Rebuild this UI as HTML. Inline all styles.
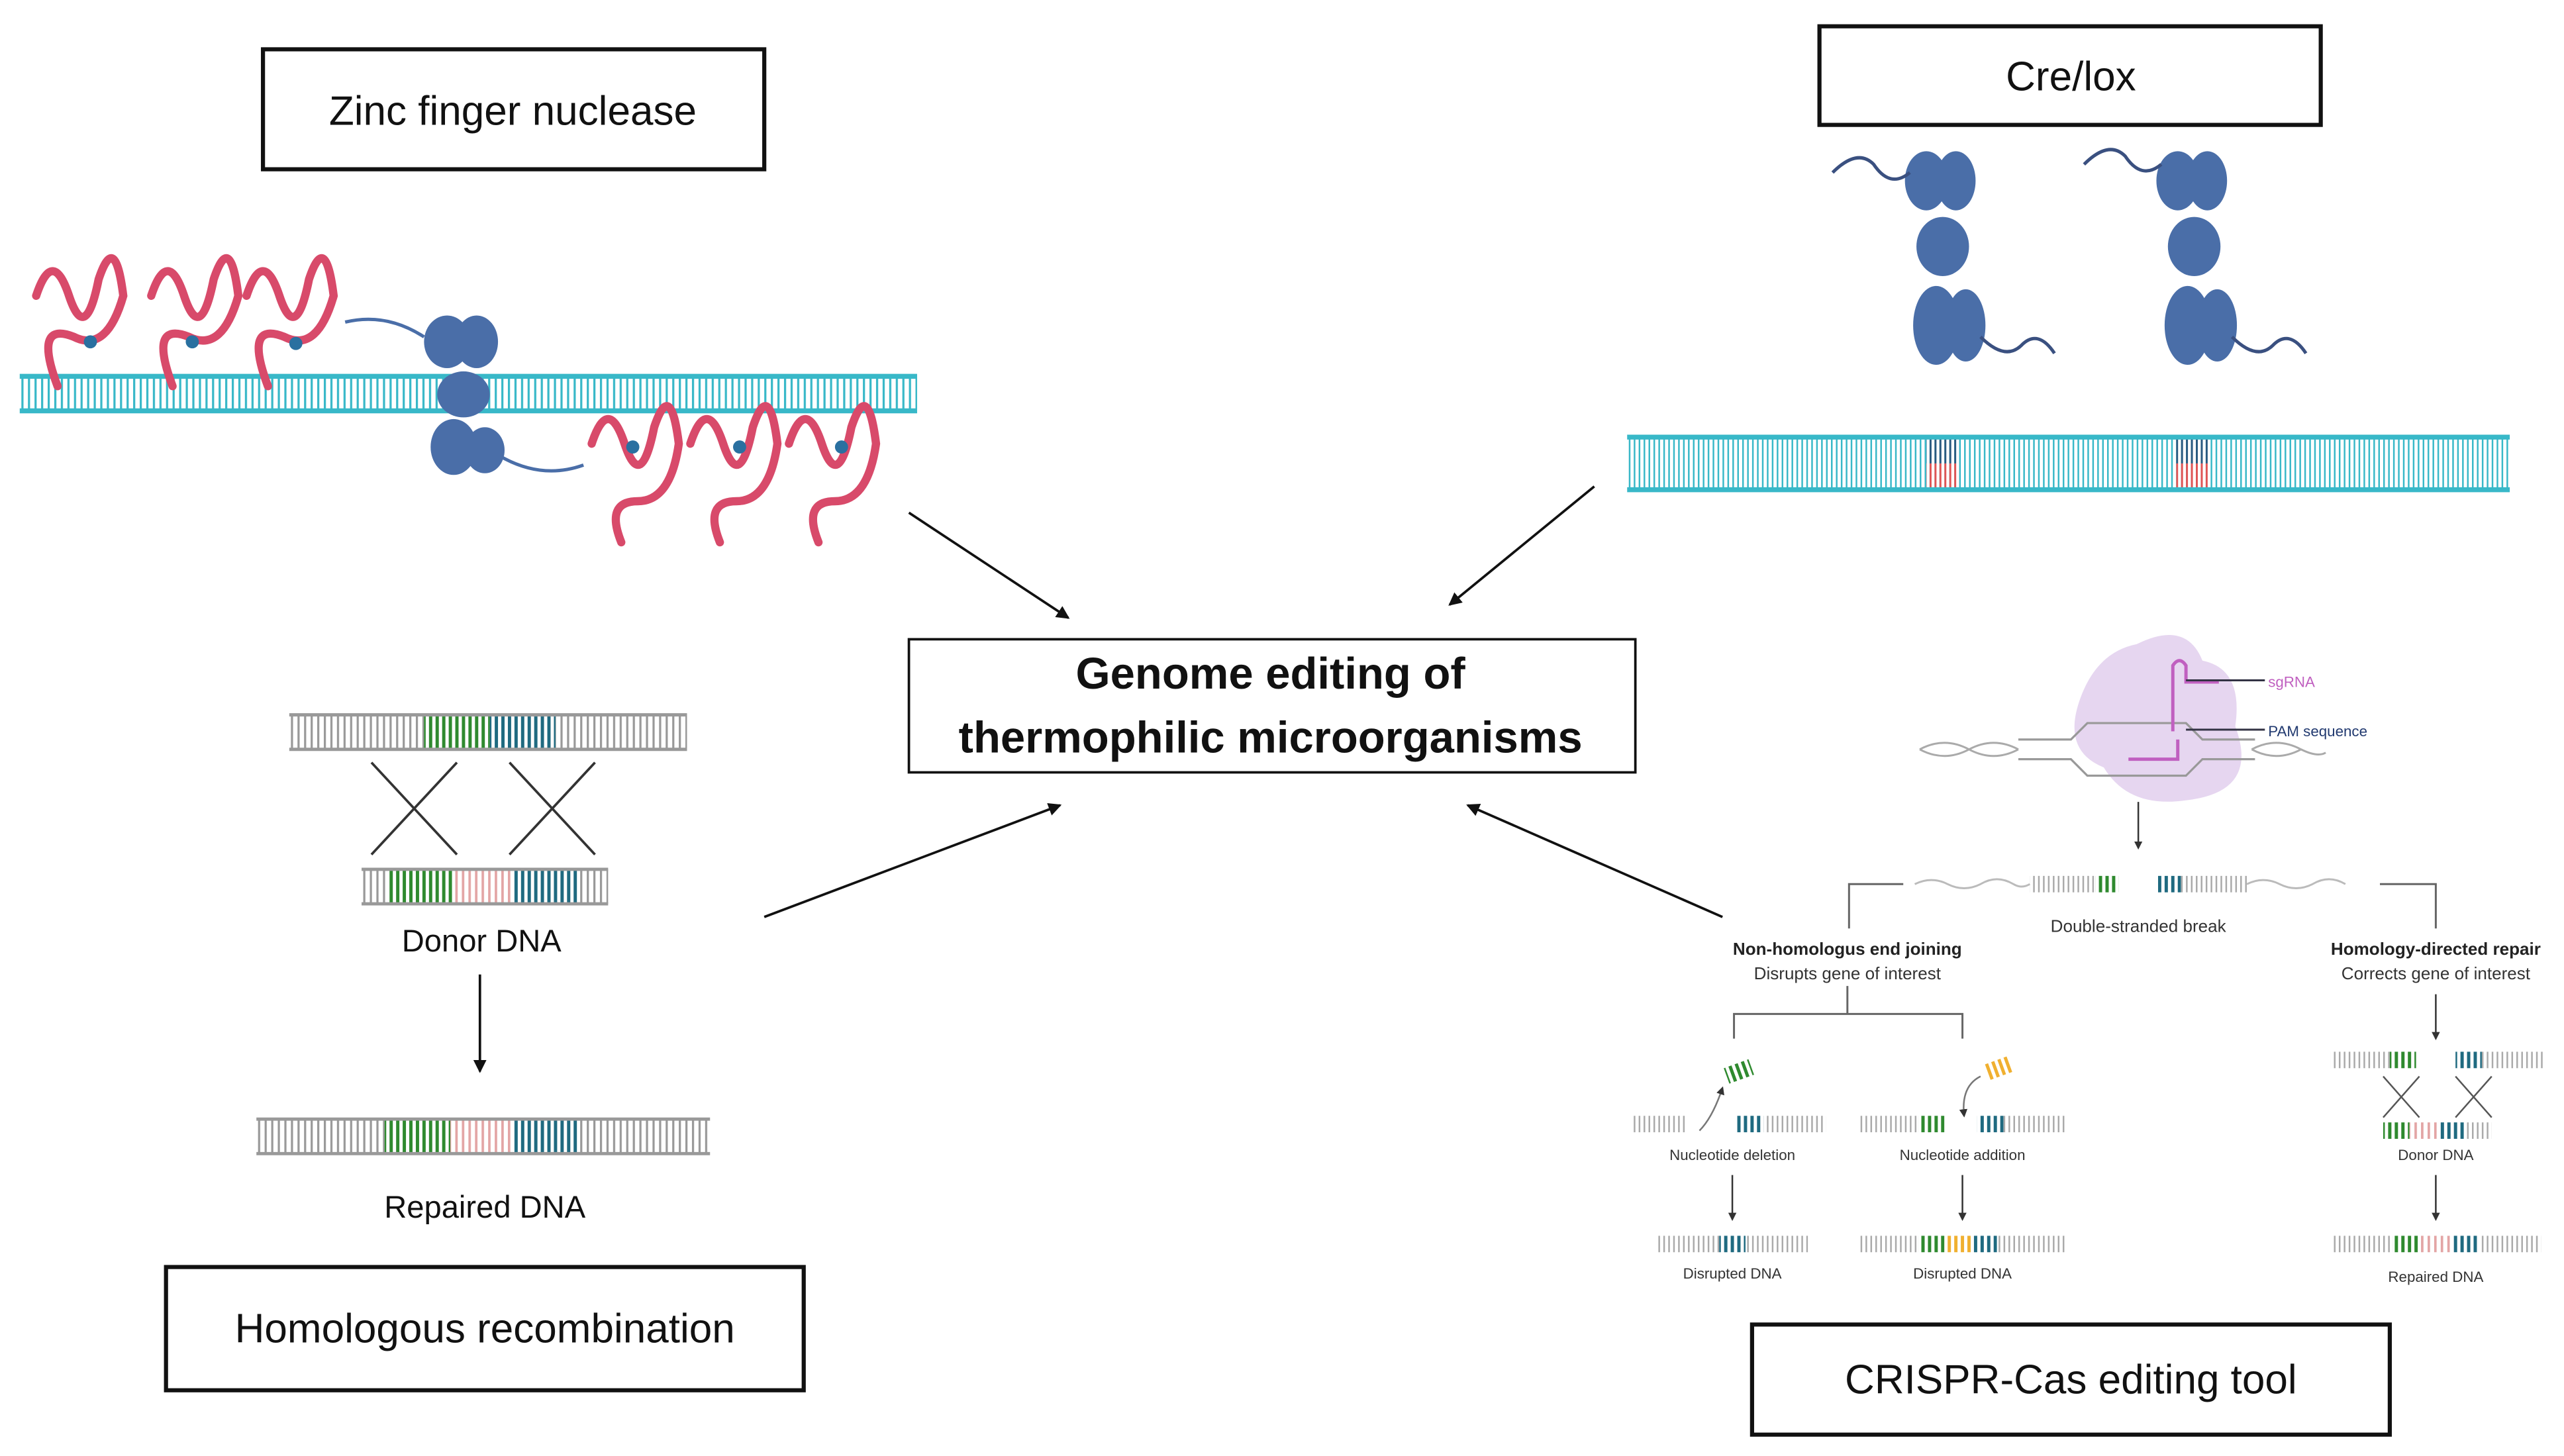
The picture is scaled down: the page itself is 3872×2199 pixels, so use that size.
<!DOCTYPE html>
<html><head><meta charset="utf-8"><style>
html,body{margin:0;padding:0;background:#fff}
svg{display:block}
text{font-family:"Liberation Sans",sans-serif}
</style></head><body>
<svg width="3872" height="2199" viewBox="0 0 1560 886" preserveAspectRatio="none" xmlns="http://www.w3.org/2000/svg">
<defs>
<pattern id="pg" width="4" height="100" patternUnits="userSpaceOnUse"><rect x="1" width="1.3" height="100" fill="#999"/></pattern>
<pattern id="pgs" width="3" height="100" patternUnits="userSpaceOnUse"><rect x="1" width="1" height="100" fill="#aaa"/></pattern>
<pattern id="pgr" width="4" height="100" patternUnits="userSpaceOnUse"><rect x="1" width="2" height="100" fill="#2f8a2f"/></pattern>
<pattern id="pte" width="4" height="100" patternUnits="userSpaceOnUse"><rect x="1" width="2" height="100" fill="#1f6a80"/></pattern>
<pattern id="ppk" width="4" height="100" patternUnits="userSpaceOnUse"><rect x="1" width="1.5" height="100" fill="#e3a5a5"/></pattern>
<pattern id="por" width="4" height="100" patternUnits="userSpaceOnUse"><rect x="1" width="2" height="100" fill="#f0b030"/></pattern>
<pattern id="pcy" width="4" height="100" patternUnits="userSpaceOnUse"><rect x="1" width="1.3" height="100" fill="#38b8c8"/></pattern>
<pattern id="pcys" width="3" height="100" patternUnits="userSpaceOnUse"><rect x="1" width="1" height="100" fill="#38b8c8"/></pattern>
<pattern id="prd" width="3" height="100" patternUnits="userSpaceOnUse"><rect x="1" width="1.2" height="100" fill="#e05555"/></pattern>
<pattern id="pdb" width="3" height="100" patternUnits="userSpaceOnUse"><rect x="1" width="1.2" height="100" fill="#2a5a80"/></pattern>
<marker id="ah" markerWidth="8" markerHeight="8" refX="7" refY="4" orient="auto" markerUnits="userSpaceOnUse"><path d="M0,0 L8,4 L0,8 z" fill="#111"/></marker>
<marker id="as" markerWidth="5" markerHeight="5" refX="4" refY="2.5" orient="auto" markerUnits="userSpaceOnUse"><path d="M0,0 L5,2.5 L0,5 z" fill="#333"/></marker>
</defs>

<rect x="160" y="30" width="305" height="73" fill="#fff" stroke="#111" stroke-width="2.5"/>
<text x="312" y="76" font-size="25" text-anchor="middle" fill="#111">Zinc finger nuclease</text>
<rect x="1107" y="16" width="305" height="60" fill="#fff" stroke="#111" stroke-width="2.5"/>
<text x="1260" y="55" font-size="25" text-anchor="middle" fill="#111">Cre/lox</text>
<rect x="553" y="389" width="442" height="81" fill="#fff" stroke="#111" stroke-width="1.5"/>
<text x="773" y="419" font-size="27" font-weight="bold" text-anchor="middle" fill="#111">Genome editing of</text>
<text x="773" y="458" font-size="27" font-weight="bold" text-anchor="middle" fill="#111">thermophilic microorganisms</text>
<rect x="101" y="771" width="388" height="75" fill="#fff" stroke="#111" stroke-width="2.5"/>
<text x="295" y="817" font-size="25" text-anchor="middle" fill="#111">Homologous recombination</text>
<rect x="1066" y="806" width="388" height="67" fill="#fff" stroke="#111" stroke-width="2.5"/>
<text x="1260" y="848" font-size="25" text-anchor="middle" fill="#111">CRISPR-Cas editing tool</text>

<g stroke="#111" stroke-width="1.5" fill="none">
<line x1="553" y1="312" x2="650" y2="376" marker-end="url(#ah)"/>
<line x1="970" y1="296" x2="882" y2="368" marker-end="url(#ah)"/>
<line x1="465" y1="558" x2="645" y2="490" marker-end="url(#ah)"/>
<line x1="1048" y1="558" x2="893" y2="490" marker-end="url(#ah)"/>
</g>

<rect x="12" y="229" width="546" height="21" fill="url(#pcy)"/>
<line x1="12" y1="229" x2="558" y2="229" stroke="#38b8c8" stroke-width="3"/>
<line x1="12" y1="250" x2="558" y2="250" stroke="#38b8c8" stroke-width="3"/>
<g fill="#4a6ea8">
<ellipse cx="272" cy="208" rx="14" ry="16"/><ellipse cx="290" cy="208" rx="13" ry="16"/>
<ellipse cx="282" cy="240" rx="16" ry="14"/>
<ellipse cx="276" cy="272" rx="14" ry="17"/><ellipse cx="295" cy="274" rx="12" ry="14"/>
</g>
<path d="M210,196 Q235,190 258,205" stroke="#4a6ea8" stroke-width="2" fill="none"/>
<path d="M305,278 Q330,292 355,283" stroke="#4a6ea8" stroke-width="2" fill="none"/>
<g stroke="#d84a6a" stroke-width="5" fill="none" stroke-linecap="round">
<path d="M22,180 q10,-30 20,0 q10,30 18,-10 q10,-30 15,10 q-10,35 -30,25 q-25,-10 -10,30"/>
<path d="M92,180 q10,-30 20,0 q10,30 18,-10 q10,-30 15,10 q-10,35 -30,25 q-25,-10 -10,30"/>
<path d="M150,180 q10,-30 20,0 q10,30 18,-10 q10,-30 15,10 q-10,35 -30,25 q-25,-10 -10,30"/>
<path d="M360,270 q10,-30 20,0 q10,30 18,-10 q10,-30 15,10 q-5,35 -25,35 q-20,0 -10,25"/>
<path d="M420,270 q10,-30 20,0 q10,30 18,-10 q10,-30 15,10 q-5,35 -25,35 q-20,0 -10,25"/>
<path d="M480,270 q10,-30 20,0 q10,30 18,-10 q10,-30 15,10 q-5,35 -25,35 q-20,0 -10,25"/>
</g>
<g fill="#2a70a0"><circle cx="55" cy="208" r="4"/><circle cx="117" cy="208" r="4"/><circle cx="180" cy="209" r="4"/>
<circle cx="385" cy="272" r="4"/><circle cx="450" cy="272" r="4"/><circle cx="512" cy="272" r="4"/></g>

<g fill="#4a6ea8">
<ellipse cx="1172" cy="110" rx="13" ry="18"/><ellipse cx="1190" cy="110" rx="12" ry="18"/>
<ellipse cx="1182" cy="150" rx="16" ry="18"/>
<ellipse cx="1178" cy="198" rx="14" ry="24"/><ellipse cx="1196" cy="198" rx="12" ry="22"/>
<ellipse cx="1325" cy="110" rx="13" ry="18"/><ellipse cx="1343" cy="110" rx="12" ry="18"/>
<ellipse cx="1335" cy="150" rx="16" ry="18"/>
<ellipse cx="1331" cy="198" rx="14" ry="24"/><ellipse cx="1349" cy="198" rx="12" ry="22"/>
</g>
<g stroke="#3a5080" stroke-width="2" fill="none">
<path d="M1115,105 q15,-15 25,-5 q10,15 22,5"/><path d="M1205,205 q15,15 25,5 q10,-10 20,5"/>
<path d="M1268,100 q15,-15 25,-5 q10,15 22,5"/><path d="M1358,205 q15,15 25,5 q10,-10 20,5"/>
</g>
<rect x="990" y="266" width="537" height="32" fill="url(#pcys)"/>
<rect x="1172" y="266" width="20" height="16" fill="url(#pdb)"/><rect x="1172" y="282" width="20" height="16" fill="url(#prd)"/>
<rect x="1324" y="266" width="20" height="16" fill="url(#pdb)"/><rect x="1324" y="282" width="20" height="16" fill="url(#prd)"/>
<line x1="990" y1="266" x2="1527" y2="266" stroke="#38b8c8" stroke-width="3"/>
<line x1="990" y1="298" x2="1527" y2="298" stroke="#38b8c8" stroke-width="3"/>

<g>
<rect x="176" y="435" width="82" height="21" fill="url(#pg)"/><rect x="258" y="435" width="40" height="21" fill="url(#pgr)"/>
<rect x="298" y="435" width="40" height="21" fill="url(#pte)"/><rect x="338" y="435" width="80" height="21" fill="url(#pg)"/>
<line x1="176" y1="435" x2="418" y2="435" stroke="#999" stroke-width="2"/><line x1="176" y1="456" x2="418" y2="456" stroke="#999" stroke-width="2"/>
<line x1="226" y1="464" x2="278" y2="520" stroke="#333" stroke-width="1.5"/><line x1="278" y1="464" x2="226" y2="520" stroke="#333" stroke-width="1.5"/>
<line x1="310" y1="464" x2="362" y2="520" stroke="#333" stroke-width="1.5"/><line x1="362" y1="464" x2="310" y2="520" stroke="#333" stroke-width="1.5"/>
<rect x="220" y="529" width="16" height="21" fill="url(#pg)"/><rect x="236" y="529" width="40" height="21" fill="url(#pgr)"/>
<rect x="276" y="529" width="36" height="21" fill="url(#ppk)"/><rect x="312" y="529" width="40" height="21" fill="url(#pte)"/>
<rect x="352" y="529" width="18" height="21" fill="url(#pg)"/>
<line x1="220" y1="529" x2="370" y2="529" stroke="#999" stroke-width="2"/><line x1="220" y1="550" x2="370" y2="550" stroke="#999" stroke-width="2"/>
<text x="293" y="579" font-size="19" text-anchor="middle" fill="#111">Donor DNA</text>
<line x1="292" y1="593" x2="292" y2="652" stroke="#111" stroke-width="1.5" marker-end="url(#ah)"/>
<rect x="156" y="681" width="78" height="21" fill="url(#pg)"/><rect x="234" y="681" width="40" height="21" fill="url(#pgr)"/>
<rect x="274" y="681" width="38" height="21" fill="url(#ppk)"/><rect x="312" y="681" width="40" height="21" fill="url(#pte)"/>
<rect x="352" y="681" width="80" height="21" fill="url(#pg)"/>
<line x1="156" y1="681" x2="432" y2="681" stroke="#999" stroke-width="2"/><line x1="156" y1="702" x2="432" y2="702" stroke="#999" stroke-width="2"/>
<text x="295" y="741" font-size="19" text-anchor="middle" fill="#111">Repaired DNA</text>
</g>

<g>
<path d="M1300,392 q30,-15 40,10 q25,5 20,40 q15,40 -30,45 q-35,5 -50,-20 q-25,-10 -15,-40 q10,-30 35,-35z" fill="#e6d6f0"/>
<path d="M1168,456 q15,-8 30,0 q15,8 30,0 M1168,456 q15,8 30,0 q15,-8 30,0 M1370,456 q15,-8 30,0 q10,5 15,2 M1370,456 q15,8 30,0" stroke="#aaa" stroke-width="1.2" fill="none"/>
<path d="M1228,450 L1260,450 L1270,440 L1330,440 L1340,450 L1372,450 M1228,462 L1260,462 L1270,472 L1330,472 L1340,462 L1372,462" stroke="#999" stroke-width="1.3" fill="none"/>
<path d="M1322,445 L1322,405 q4,-6 8,0 L1330,415 L1350,415 M1295,462 L1325,462 L1325,450" stroke="#c060c0" stroke-width="2" fill="none"/>
<line x1="1330" y1="414" x2="1378" y2="414" stroke="#334" stroke-width="1.2"/>
<line x1="1330" y1="444" x2="1378" y2="444" stroke="#334" stroke-width="1.2"/>
<text x="1380" y="418" font-size="9" fill="#c060c0">sgRNA</text>
<text x="1380" y="448" font-size="9" fill="#223a70">PAM sequence</text>
<line x1="1301" y1="488" x2="1301" y2="516" stroke="#333" stroke-width="1" marker-end="url(#as)"/>
<path d="M1165,538 q10,-5 20,0 q10,5 20,0 q10,-6 20,0 q5,3 10,0" stroke="#bbb" stroke-width="1.2" fill="none"/>
<rect x="1235" y="533" width="40" height="10" fill="url(#pgs)"/><rect x="1275" y="533" width="14" height="10" fill="url(#pgr)"/>
<rect x="1313" y="533" width="14" height="10" fill="url(#pte)"/><rect x="1327" y="533" width="40" height="10" fill="url(#pgs)"/>
<path d="M1367,538 q10,-5 20,0 q10,5 20,0 q10,-6 20,0" stroke="#bbb" stroke-width="1.2" fill="none"/>
<text x="1301" y="567" font-size="10.5" text-anchor="middle" fill="#333">Double-stranded break</text>
<g stroke="#666" stroke-width="1.2" fill="none">
<path d="M1158,538 L1125,538 L1125,565"/><path d="M1448,538 L1482,538 L1482,565"/>
<path d="M1124,600 L1124,617 M1055,632 L1055,617 L1194,617 L1194,632"/>
</g>
<text x="1124" y="581" font-size="10.5" font-weight="bold" text-anchor="middle" fill="#222">Non-homologus end joining</text>
<text x="1124" y="596" font-size="10.5" text-anchor="middle" fill="#333">Disrupts gene of interest</text>
<text x="1482" y="581" font-size="10.5" font-weight="bold" text-anchor="middle" fill="#222">Homology-directed repair</text>
<text x="1482" y="596" font-size="10.5" text-anchor="middle" fill="#333">Corrects gene of interest</text>
<rect x="993" y="679" width="33" height="10" fill="url(#pgs)"/>
<rect x="1057" y="679" width="16" height="10" fill="url(#pte)"/><rect x="1073" y="679" width="38" height="10" fill="url(#pgs)"/>
<rect x="1050" y="647" width="16" height="10" fill="url(#pgr)" transform="rotate(-20 1058 652)"/>
<path d="M1034,688 q8,-8 14,-26" stroke="#777" fill="none" marker-end="url(#as)"/>
<text x="1054" y="706" font-size="9" text-anchor="middle" fill="#333">Nucleotide deletion</text>
<line x1="1054" y1="715" x2="1054" y2="742" stroke="#333" marker-end="url(#as)"/>
<rect x="1008" y="752" width="38" height="10" fill="url(#pgs)"/><rect x="1046" y="752" width="16" height="10" fill="url(#pte)"/><rect x="1062" y="752" width="38" height="10" fill="url(#pgs)"/>
<text x="1054" y="778" font-size="9" text-anchor="middle" fill="#333">Disrupted DNA</text>
<rect x="1131" y="679" width="36" height="10" fill="url(#pgs)"/><rect x="1167" y="679" width="16" height="10" fill="url(#pgr)"/>
<rect x="1203" y="679" width="16" height="10" fill="url(#pte)"/><rect x="1219" y="679" width="38" height="10" fill="url(#pgs)"/>
<rect x="1208" y="645" width="16" height="10" fill="url(#por)" transform="rotate(-20 1216 650)"/>
<path d="M1205,655 q-12,6 -10,24" stroke="#777" fill="none" marker-end="url(#as)"/>
<text x="1194" y="706" font-size="9" text-anchor="middle" fill="#333">Nucleotide addition</text>
<line x1="1194" y1="715" x2="1194" y2="742" stroke="#333" marker-end="url(#as)"/>
<rect x="1131" y="752" width="36" height="10" fill="url(#pgs)"/><rect x="1167" y="752" width="16" height="10" fill="url(#pgr)"/>
<rect x="1183" y="752" width="16" height="10" fill="url(#por)"/><rect x="1199" y="752" width="16" height="10" fill="url(#pte)"/><rect x="1215" y="752" width="42" height="10" fill="url(#pgs)"/>
<text x="1194" y="778" font-size="9" text-anchor="middle" fill="#333">Disrupted DNA</text>
<line x1="1482" y1="605" x2="1482" y2="632" stroke="#333" marker-end="url(#as)"/>
<rect x="1418" y="640" width="36" height="10" fill="url(#pgs)"/><rect x="1454" y="640" width="16" height="10" fill="url(#pgr)"/>
<rect x="1494" y="640" width="16" height="10" fill="url(#pte)"/><rect x="1510" y="640" width="38" height="10" fill="url(#pgs)"/>
<g stroke="#555" stroke-width="1"><line x1="1450" y1="655" x2="1472" y2="680"/><line x1="1472" y1="655" x2="1450" y2="680"/>
<line x1="1494" y1="655" x2="1516" y2="680"/><line x1="1516" y1="655" x2="1494" y2="680"/></g>
<rect x="1450" y="683" width="16" height="10" fill="url(#pgr)"/><rect x="1466" y="683" width="18" height="10" fill="url(#ppk)"/>
<rect x="1484" y="683" width="16" height="10" fill="url(#pte)"/><rect x="1500" y="683" width="16" height="10" fill="url(#pgs)"/>
<text x="1482" y="706" font-size="9" text-anchor="middle" fill="#333">Donor DNA</text>
<line x1="1482" y1="715" x2="1482" y2="742" stroke="#333" marker-end="url(#as)"/>
<rect x="1420" y="752" width="36" height="10" fill="url(#pgs)"/><rect x="1456" y="752" width="16" height="10" fill="url(#pgr)"/>
<rect x="1472" y="752" width="20" height="10" fill="url(#ppk)"/><rect x="1492" y="752" width="16" height="10" fill="url(#pte)"/><rect x="1508" y="752" width="38" height="10" fill="url(#pgs)"/>
<text x="1482" y="780" font-size="9" text-anchor="middle" fill="#333">Repaired DNA</text>
</g>
</svg>
</body></html>
